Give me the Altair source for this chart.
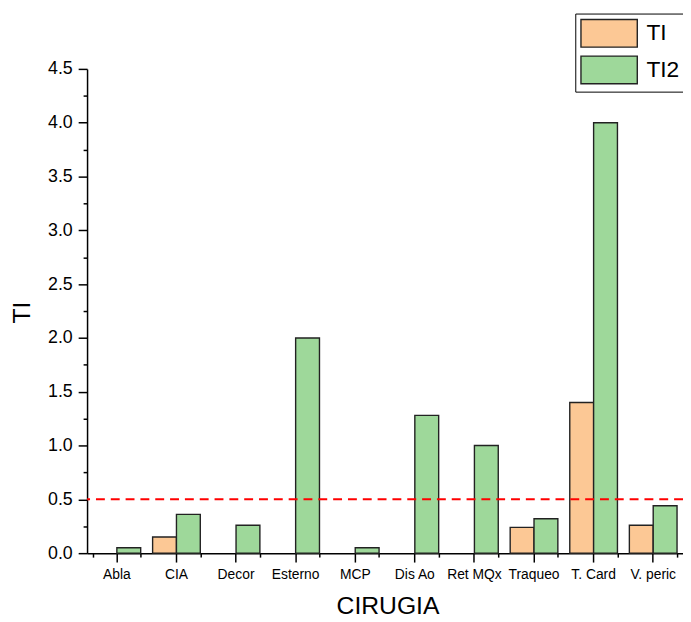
import altair as alt
import pandas as pd

categories = ["Abla", "CIA", "Decor", "Esterno", "MCP", "Dis Ao", "Ret MQx", "Traqueo", "T. Card", "V. peric"]
ti_values = [0.0, 0.15, 0.0, 0.0, 0.0, 0.0, 0.0, 0.24, 1.40, 0.26]
ti2_values = [0.05, 0.36, 0.26, 2.00, 0.05, 1.28, 1.00, 0.32, 4.00, 0.44]
series_names = ["TI", "TI2"]
series_colors = ["#FCC895", "#9ED89A"]
threshold = [0.5]
y_major = [0.0, 0.5, 1.0, 1.5, 2.0, 2.5, 3.0, 3.5, 4.0, 4.5]
y_minor = [0.25, 0.75, 1.25, 1.75, 2.25, 2.75, 3.25, 3.75, 4.25]

rows = []
for c, a, b in zip(categories, ti_values, ti2_values):
    rows.append({"cat": c, "series": series_names[0], "value": a})
    rows.append({"cat": c, "series": series_names[1], "value": b})
df = pd.DataFrame(rows)
df_thr = pd.DataFrame({"thr": threshold})

FONT = "Liberation Sans"
x_scale = alt.Scale(paddingInner=0.2, paddingOuter=0.1)
y_scale = alt.Scale(domain=[0, 4.5], nice=False, zero=True)

x_major = alt.Axis(orient="bottom", title="CIRUGIA", labelAngle=0, tickBand="center",
                   tickSize=9, tickWidth=1.5, tickColor="black", domainColor="black",
                   domainWidth=1.5, labelFont=FONT, labelFontSize=14, labelColor="black",
                   labelPadding=6, titleFont=FONT, titleFontSize=25, titleFontWeight="normal",
                   titleColor="black", titleX=304, titleY=61, titleBaseline="alphabetic",
                   titleAlign="center", grid=False)
x_minor = alt.Axis(orient="bottom", title=None, labels=False, domain=False, tickBand="extent",
                   tickSize=4, tickWidth=1.5, tickColor="black", grid=False)
y_axis_major = alt.Axis(orient="left", title="TI", values=y_major, format=".1f",
                        tickSize=9, tickWidth=1.5, tickColor="black", domainColor="black",
                        domainWidth=1.5, labelFont=FONT, labelFontSize=18, labelColor="black",
                        labelPadding=6, titleFont=FONT, titleFontSize=25, titleFontWeight="normal",
                        titleColor="black", titleX=-66, titleY=246, titleAngle=270,
                        titleBaseline="middle", titleAlign="center", grid=False)
y_axis_minor = alt.Axis(orient="left", title=None, labels=False, domain=False, values=y_minor,
                        tickSize=4, tickWidth=1.5, tickColor="black", grid=False)

bars = alt.Chart(df).mark_bar(stroke="#222222", strokeWidth=1.4, opacity=1).encode(
    x=alt.X("cat:N", sort=categories, scale=x_scale, axis=x_major),
    xOffset=alt.XOffset("series:N", sort=series_names, scale=alt.Scale(paddingInner=0, paddingOuter=0)),
    y=alt.Y("value:Q", scale=y_scale, axis=y_axis_major),
    color=alt.Color("series:N", sort=series_names,
                    scale=alt.Scale(domain=series_names, range=series_colors),
                    legend=alt.Legend(title=None, orient="none", legendX=494, legendY=-56,
                                      strokeColor="black", fillColor="white", padding=5,
                                      symbolType="M-1,-0.98L3,-0.98L3,0.98L-1,0.98Z",
                                      symbolSize=812, symbolStrokeColor="#222222",
                                      symbolStrokeWidth=1.4, symbolOpacity=1,
                                      labelFont=FONT, labelFontSize=23, labelColor="black",
                                      labelOffset=37, rowPadding=3)),
).transform_filter("datum.value > 0")

minor = alt.Chart(df).mark_bar(opacity=0).encode(
    x=alt.X("cat:N", sort=categories, scale=x_scale, axis=x_minor),
    y=alt.Y("value:Q", scale=y_scale, axis=y_axis_minor),
)

rule = alt.Chart(df_thr).mark_rule(color="#FF0000", strokeDash=[9, 6], strokeWidth=2).encode(
    y=alt.Y("thr:Q", scale=y_scale, axis=None)
)

chart = alt.layer(minor, bars, rule).resolve_axis(x="independent", y="independent").properties(
    width=603, height=490,
    autosize=alt.AutoSizeParams(type="none"),
    padding={"left": 80, "top": 58, "right": 0, "bottom": 64},
    background="white",
).configure_view(strokeWidth=0)

chart.save("out.html", embed_options={"renderer": "svg", "actions": False})
